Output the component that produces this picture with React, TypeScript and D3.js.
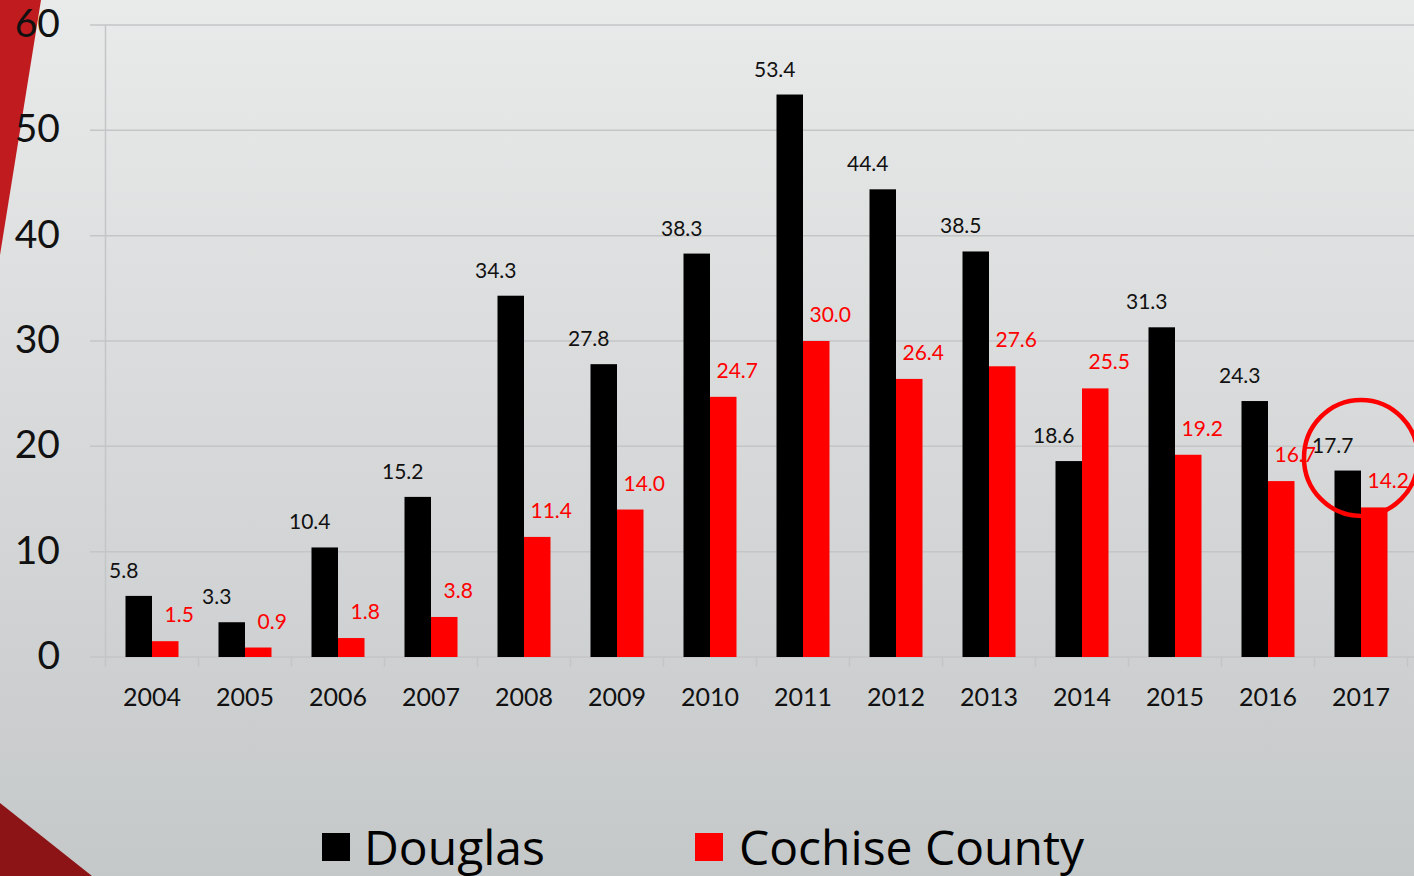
import React from 'react';
import * as d3 from 'd3';

const years = ['2004', '2005', '2006', '2007', '2008', '2009', '2010', '2011', '2012', '2013', '2014', '2015', '2016', '2017'];
const douglas = [5.8, 3.3, 10.4, 15.2, 34.3, 27.8, 38.3, 53.4, 44.4, 38.5, 18.6, 31.3, 24.3, 17.7];
const cochise = [1.5, 0.9, 1.8, 3.8, 11.4, 14.0, 24.7, 30.0, 26.4, 27.6, 25.5, 19.2, 16.7, 14.2];
const yTicks = [0, 10, 20, 30, 40, 50, 60];

const W = 1414;
const H = 876;
const margin = { top: 25, left: 105.5, right: 6.5, bottom: 219 };
const labelFont = 'Lato, "Open Sans", sans-serif';

export default function App() {
  const x = d3.scaleBand<string>()
    .domain(years)
    .range([margin.left, W - margin.right]);
  const y = d3.scaleLinear()
    .domain([0, 60])
    .range([H - margin.bottom, margin.top]);

  const bw = 26.5;
  const y0 = y(0);
  const last = years[years.length - 1];
  // red highlight ring around the latest year
  const circleCx = (x(last) as number) + x.bandwidth() / 2;
  const circleCy = y(18.9);

  return (
    <svg width={W} height={H} style={{ position: 'absolute', left: 0, top: 0 }}>
      <defs>
        <linearGradient id="bg" x1="0" y1="0" x2="0" y2="1">
          <stop offset="0" stopColor="#e9eaea" />
          <stop offset="1" stopColor="#c5c8c9" />
        </linearGradient>
      </defs>
      <rect x={0} y={0} width={W} height={H} fill="url(#bg)" />
      {/* decorative slide shapes */}
      <polygon points="0,0 41,0 0,255" fill="#c01b1f" />
      <polygon points="0,803 92,876 0,876" fill="#8c1417" />

      {/* gridlines */}
      {yTicks.map(t => (
        <line key={t} x1={90} x2={W} y1={y(t)} y2={y(t)} stroke="#c4c5c6" strokeWidth={1.5} />
      ))}
      <line x1={margin.left} x2={margin.left} y1={margin.top} y2={y0} stroke="#c4c5c6" strokeWidth={1.5} />
      {years.map(yr => (
        <line key={yr} x1={x(yr) as number} x2={x(yr) as number}
          y1={y0} y2={y0 + 10} stroke="#c4c5c6" strokeWidth={1.5} />
      ))}
      <line x1={W - margin.right} x2={W - margin.right} y1={y0} y2={y0 + 10} stroke="#c4c5c6" strokeWidth={1.5} />

      {/* y labels */}
      {yTicks.map(t => (
        <text key={t} x={60} y={y(t) + 2} textAnchor="end" dominantBaseline="middle"
          fontFamily={labelFont} fontSize={39} fill="#111">{t}</text>
      ))}

      {/* x labels */}
      {years.map(yr => (
        <text key={yr} x={(x(yr) as number) + x.bandwidth() / 2} y={706} textAnchor="middle"
          fontFamily={labelFont} fontSize={25} fill="#111">{yr}</text>
      ))}

      {/* bars */}
      {years.map((yr, i) => {
        const cx = (x(yr) as number) + x.bandwidth() / 2;
        return (
          <g key={yr}>
            <rect x={cx - bw} y={y(douglas[i])} width={bw} height={y0 - y(douglas[i])} fill="#000" />
            <rect x={cx} y={y(cochise[i])} width={bw} height={y0 - y(cochise[i])} fill="#ff0000" />
            <text x={cx - bw / 2 - 15} y={y(douglas[i]) - 18} textAnchor="middle"
              fontFamily={labelFont} fontSize={21} fill="#111">{douglas[i].toFixed(1)}</text>
            <text x={cx + bw / 2 + 14} y={y(cochise[i]) - 19} textAnchor="middle"
              fontFamily={labelFont} fontSize={21} fill="#ff0000">{cochise[i].toFixed(1)}</text>
          </g>
        );
      })}

      <ellipse cx={circleCx} cy={circleCy} rx={57} ry={58} fill="none" stroke="#ff0000" strokeWidth={4.5} />

      {/* legend */}
      <rect x={322} y={833} width={28} height={28} fill="#000" />
      <text x={364} y={865} fontFamily='"Open Sans", sans-serif' fontSize={48} fill="#000">Douglas</text>
      <rect x={695} y={833} width={28} height={28} fill="#ff0000" />
      <text x={739} y={865} fontFamily='"Open Sans", sans-serif' fontSize={48} fill="#000">Cochise County</text>
    </svg>
  );
}
